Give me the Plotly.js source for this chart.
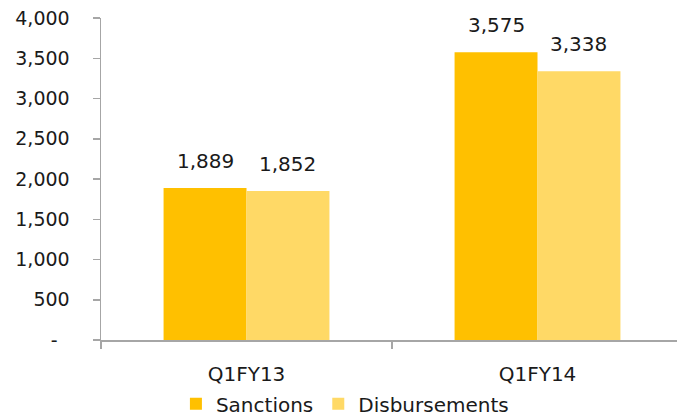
<!DOCTYPE html>
<html>
<head>
<meta charset="utf-8">
<script src="https://cdn.plot.ly/plotly-3.0.1.min.js"></script>
<style>
html,body{margin:0;padding:0;overflow:hidden;background:#fff;}
#chart{width:683px;height:418px;}
</style>
</head>
<body>
<div id="chart"></div>
<script>
const categories = ["Q1FY13", "Q1FY14"];
const sanctions = [1889, 3575];
const disbursements = [1852, 3338];
const yTickVals = [0, 500, 1000, 1500, 2000, 2500, 3000, 3500, 4000];
const yTickText = ["-\u00a0\u00a0", "500", "1,000", "1,500", "2,000", "2,500", "3,000", "3,500", "4,000"];

const FONT = "DejaVu Sans, sans-serif";
const bargap = 0.43;
const plotLeft = 101, plotWidth = 582;
const catWidth = plotWidth / categories.length;
const barW = catWidth * (1 - bargap) / 2;

const fmt = v => v.toLocaleString("en-US");

const traces = [
  {type: "bar", name: "Sanctions", x: categories, y: sanctions,
   marker: {color: "#FFC000"}, hoverinfo: "skip"},
  {type: "bar", name: "Disbursements", x: categories, y: disbursements,
   marker: {color: "#FFD966"}, hoverinfo: "skip"}
];

const annotations = [];
categories.forEach((c, i) => {
  annotations.push({x: c, y: sanctions[i], xref: "x", yref: "y", text: fmt(sanctions[i]),
    xshift: -barW / 2, yshift: 13, yanchor: "bottom", showarrow: false,
    font: {family: FONT, size: 20, color: "#1a1a1a"}});
  annotations.push({x: c, y: disbursements[i], xref: "x", yref: "y", text: fmt(disbursements[i]),
    xshift: barW / 2, yshift: 13, yanchor: "bottom", showarrow: false,
    font: {family: FONT, size: 20, color: "#1a1a1a"}});
});

const layout = {
  width: 683, height: 418,
  margin: {l: plotLeft, r: 0, t: 18, b: 78, pad: 0},
  paper_bgcolor: "#fff", plot_bgcolor: "#fff",
  font: {family: FONT, size: 19, color: "#1a1a1a"},
  barmode: "group", bargap: bargap, bargroupgap: 0,
  showlegend: true,
  legend: {orientation: "h", xref: "container", yref: "container", x: 0.505, xanchor: "center",
    y: 0.034, yanchor: "middle", font: {family: FONT, size: 20, color: "#1a1a1a"},
    itemwidth: 30, traceorder: "normal"},
  xaxis: {type: "category", showline: true, linecolor: "#A6A6A6", linewidth: 1.5,
    ticks: "outside", tickson: "boundaries", ticklen: 7, tickcolor: "#A6A6A6", tickwidth: 1.5,
    tickfont: {family: FONT, size: 20, color: "#1a1a1a"},
    showgrid: false, zeroline: false, ticklabelstandoff: 15, fixedrange: true},
  yaxis: {range: [0, 4000], tickvals: yTickVals, ticktext: yTickText,
    showline: true, linecolor: "#A6A6A6", linewidth: 1.5,
    ticks: "outside", ticklen: 7, tickcolor: "#A6A6A6", tickwidth: 1.5,
    showgrid: false, zeroline: false, ticklabelstandoff: 19, fixedrange: true},
  annotations: annotations
};

Plotly.newPlot("chart", traces, layout, {staticPlot: true, displayModeBar: false});
</script>
</body>
</html>
